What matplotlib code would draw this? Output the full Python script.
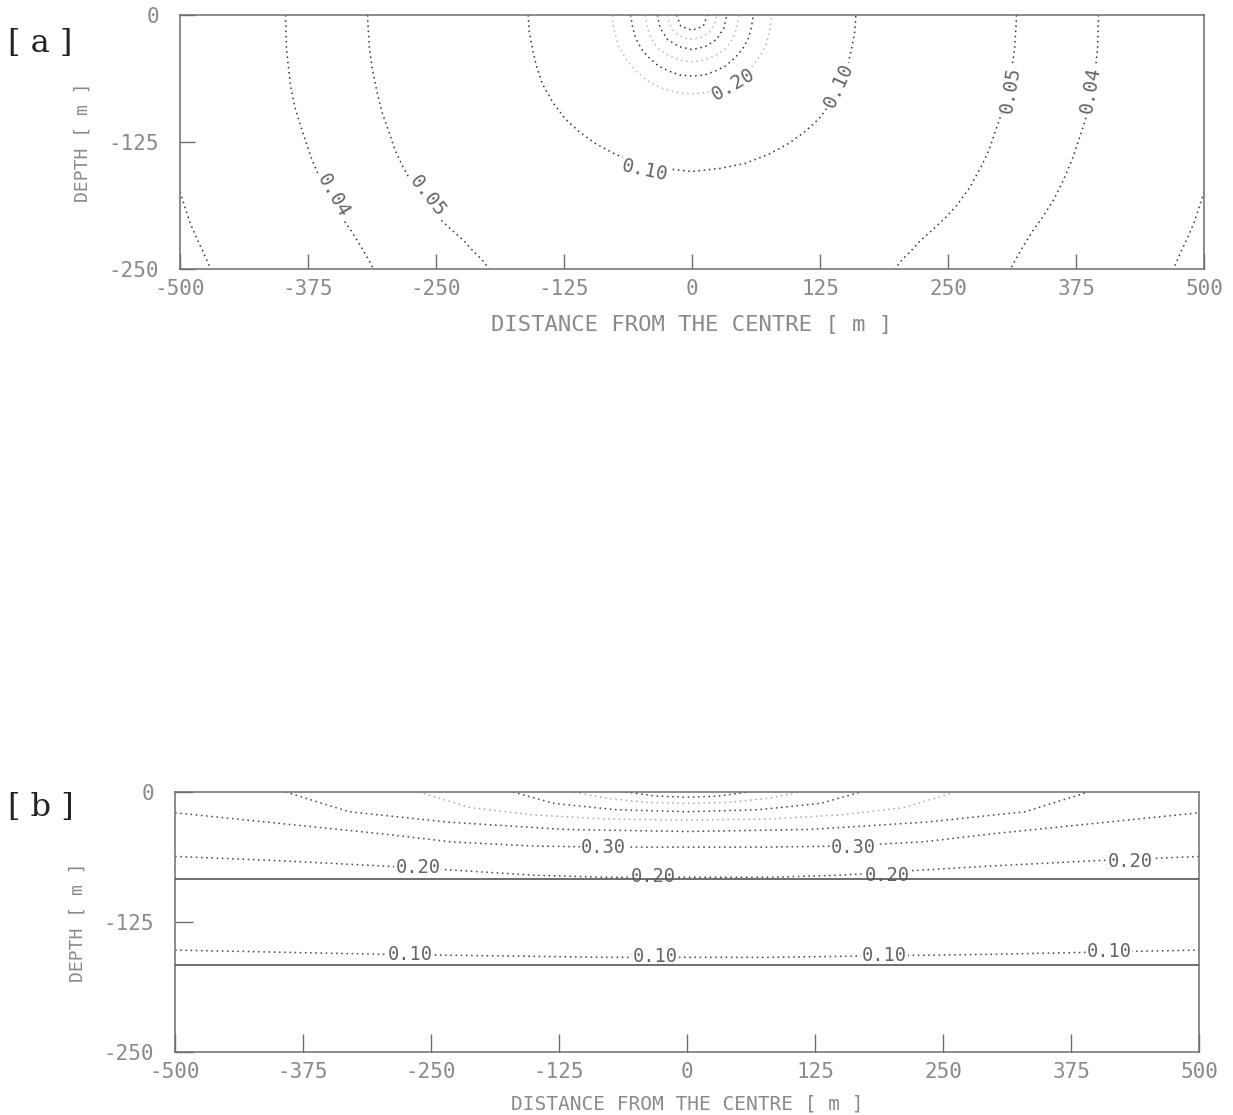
import matplotlib
matplotlib.use("Agg")
import matplotlib.pyplot as plt

# ---- panel [a] : contour lines (x [m], depth [m]) ----
A_RINGS = [
    # small rings around the source, outermost first (0.20 is the outer one)
    ([-78, -76, -72, -64, -55, -43, -30, -15, 0, 15, 30, 43, 55, 64, 72, 76, 78],
     [0, -15, -30, -44, -55, -65, -72, -76, -78, -76, -72, -65, -55, -44, -30, -15, 0]),
    ([-60, -58, -55, -49, -42, -33, -23, -12, 0, 12, 23, 33, 42, 49, 55, 58, 60],
     [0, -12, -23, -34, -42, -50, -55, -59, -60, -59, -55, -50, -42, -34, -23, -12, 0]),
    ([-46, -44, -42, -38, -33, -26, -18, -9, 0, 9, 18, 26, 33, 38, 42, 44, 46],
     [0, -9, -18, -26, -33, -38, -42, -45, -46, -45, -42, -38, -33, -26, -18, -9, 0]),
    ([-34, -31, -24, -13, 0, 13, 24, 31, 34], [0, -13, -24, -31, -34, -31, -24, -13, 0]),
    ([-24, -22, -17, -9, 0, 9, 17, 22, 24], [0, -9, -17, -22, -24, -22, -17, -9, 0]),
    ([-15, -11, 0, 11, 15], [0, -11, -15, -11, 0]),
]
A_010_X = [-160, -159, -156, -152, -146, -136, -124, -110, -95, -75, -52, -27, 0,
           27, 52, 75, 95, 110, 124, 136, 146, 152, 156, 159, 160]
A_010_D = [0, -16, -32, -50, -68, -86, -102, -115, -126, -137, -146, -151, -154,
           -151, -146, -137, -126, -115, -102, -86, -68, -50, -32, -16, 0]
A_005_X = [317, 316, 315, 312, 308, 303, 296, 290, 282, 271, 258, 246, 232, 222, 214, 205, 198]
A_005_D = [0, -17, -34, -54, -74, -95, -115, -133, -150, -170, -188, -201, -214, -223, -232, -241, -250]
A_004_X = [397, 396.5, 396, 394, 392, 388, 382, 377, 372, 363, 353, 343, 333, 322, 313, 311]
A_004_D = [0, -17, -34, -52, -70, -90, -110, -125, -140, -162, -182, -198, -212, -230, -246, -250]
A_003_X = [500, 495, 490, 484, 478, 474, 470]
A_003_D = [-174, -190, -205, -219, -232, -241, -250]

A_LABELS = [  # text, x, depth, rotation
    ("0.20", 40, -68, 30),
    ("0.10", -46, -153, -12),
    ("0.10", 143, -69, 65),
    ("0.05", -258, -178, -52),
    ("0.04", -350, -178, -60),
    ("0.05", 311, -74, 80),
    ("0.04", 389, -74, 80),
]

# ---- panel [b] : layered ground ----
B_LAYERS = [-83.3, -166.7]
B_X = [-500, -400, -300, -230, -150, -80, 0, 80, 150, 230, 300, 400, 500]
B_010 = [-152, -154, -156, -157, -158, -159, -159, -159, -158, -157, -156, -154, -152]
B_020 = [-62, -66, -71, -75, -80, -82, -82, -82, -80, -75, -71, -66, -62]
B_030 = [-20, -30, -40, -48, -52, -53, -53, -53, -52, -48, -40, -30, -20]
B_UPPER = [  # higher values bending up to the surface near the centre
    ([-392, -330, -233, -120, 0, 120, 233, 330, 392], [0, -19, -29, -36, -38, -36, -29, -19, 0]),
    ([-262, -212, -150, -80, 0, 80, 150, 212, 262], [0, -15, -22, -26, -27, -26, -22, -15, 0]),
    ([-170, -130, -70, 0, 70, 130, 170], [0, -11, -17, -19, -17, -11, 0]),
    ([-110, -80, -40, 0, 40, 80, 110], [0, -6, -10, -11, -10, -6, 0]),
    ([-60, -30, 0, 30, 60], [0, -4, -5, -4, 0]),
]
B_LABELS = [
    ("0.30", -82, -53), ("0.30", 162, -53),
    ("0.20", -263, -73), ("0.20", -33, -81), ("0.20", 195, -80), ("0.20", 433, -67),
    ("0.10", -270, -156), ("0.10", -31, -158), ("0.10", 193, -157), ("0.10", 412, -153),
]

XTICKS = [-500, -375, -250, -125, 0, 125, 250, 375, 500]
YTICKS = [0, -125, -250]

MONO = "DejaVu Sans Mono"
DOT = (0, (1, 2.4))
GREY_TXT = "#8a8a8a"

fig = plt.figure(figsize=(12.33, 11.15), dpi=100)
ax_a = fig.add_axes([0.146, 0.7587, 0.8305, 0.2278])
ax_b = fig.add_axes([0.142, 0.0565, 0.8305, 0.2332])


def frame(ax, ticklen, xsize, xpad):
    ax.set_xlim(-500, 500)
    ax.set_ylim(-250, 0)
    ax.set_xticks(XTICKS)
    ax.set_xticklabels([str(v) for v in XTICKS])
    ax.set_yticks(YTICKS)
    ax.set_yticklabels([str(v) for v in YTICKS])
    for s in ax.spines.values():
        s.set_color("#6e6e6e")
        s.set_linewidth(1.1)
    ax.tick_params(direction="in", length=ticklen, width=1.0, color="#6e6e6e",
                   labelsize=15, labelcolor=GREY_TXT)
    ax.tick_params(axis="x", pad=7)
    ax.tick_params(axis="y", pad=15)
    for lab in ax.get_xticklabels() + ax.get_yticklabels():
        lab.set_family(MONO)
    ax.set_xlabel("DISTANCE FROM THE CENTRE [ m ]", family=MONO, fontsize=xsize,
                  color=GREY_TXT, labelpad=xpad)
    ax.set_ylabel("DEPTH [ m ]", family=MONO, fontsize=13, color=GREY_TXT, labelpad=12)


frame(ax_a, 10.8, 16, 12)
frame(ax_b, 13, 14, 9)

# panel a lines
for i, (xs, ds) in enumerate(A_RINGS):
    ax_a.plot(xs, ds, ls=DOT, lw=1.1, color="#bbbbbb" if i % 2 == 0 else "#333333")
ax_a.plot(A_010_X, A_010_D, ls=DOT, lw=1.1, color="#333333")
for xs, ds in [(A_005_X, A_005_D), (A_004_X, A_004_D), (A_003_X, A_003_D)]:
    ax_a.plot(xs, ds, ls=DOT, lw=1.1, color="#333333")
    ax_a.plot([-v for v in xs], ds, ls=DOT, lw=1.1, color="#333333")
for txt, x, d, rot in A_LABELS:
    ax_a.text(x, d, txt, family=MONO, fontsize=14, color="#666666", rotation=rot,
              ha="center", va="center", rotation_mode="anchor",
              bbox=dict(boxstyle="square,pad=0.05", fc="white", ec="none"))

# panel b lines
for dep in B_LAYERS:
    ax_b.axhline(dep, color="#555555", lw=1.2, zorder=5)
for ds in (B_010, B_020, B_030):
    ax_b.plot(B_X, ds, ls=DOT, lw=1.1, color="#444444")
for i, (xs, ds) in enumerate(B_UPPER):
    ax_b.plot(xs, ds, ls=DOT, lw=1.1, color="#444444" if i % 2 == 0 else "#aaaaaa")
for txt, x, d in B_LABELS:
    ax_b.text(x, d, txt, family=MONO, fontsize=13.5, color="#666666",
              ha="center", va="center", zorder=4,
              bbox=dict(boxstyle="square,pad=0.05", fc="white", ec="none"))

fig.text(8 / 1233, 1 - 43 / 1115, "[ a ]", family="DejaVu Serif", fontsize=23,
         color="#222222", va="center", ha="left")
fig.text(8 / 1233, 1 - 808 / 1115, "[ b ]", family="DejaVu Serif", fontsize=23,
         color="#222222", va="center", ha="left")

fig.savefig("out.png", dpi=100, facecolor="white")
